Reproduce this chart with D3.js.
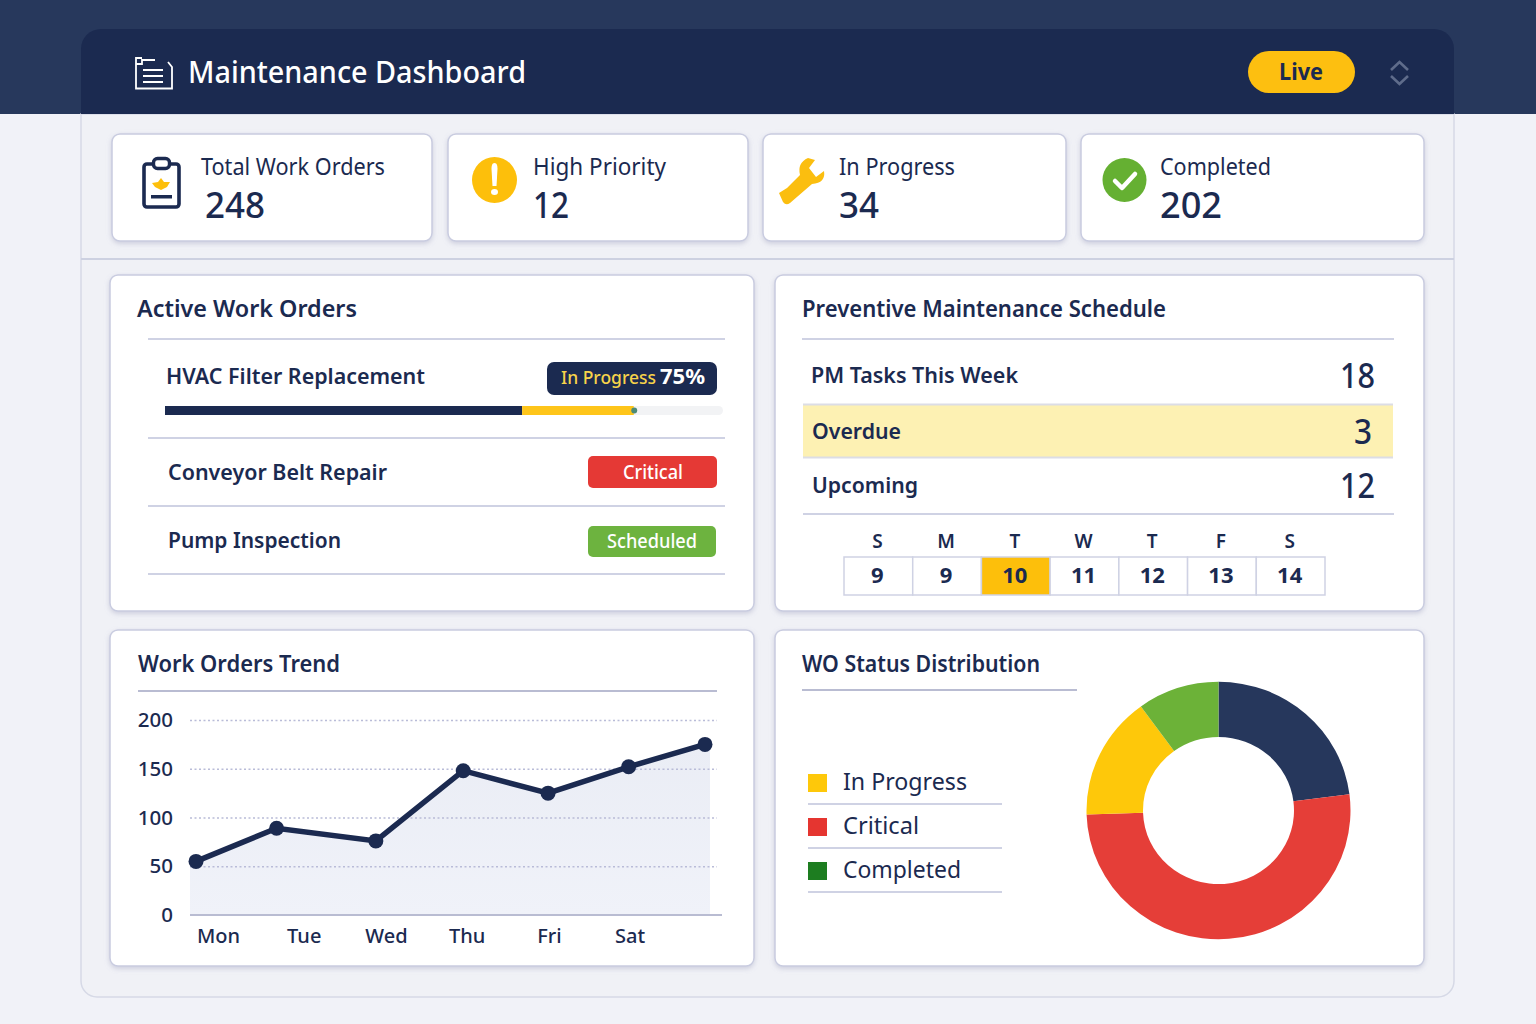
<!DOCTYPE html>
<html>
<head>
<meta charset="utf-8">
<title>Maintenance Dashboard</title>
<script src="https://d3js.org/d3.v7.min.js"></script>
<style>
html, body { margin: 0; padding: 0; background: #f1f2f8; }
svg { display: block; font-family: "Noto Sans", sans-serif; }
</style>
</head>
<body>
<div id="chart"></div>
<script>
const kpiLabels = ["Total Work Orders", "High Priority", "In Progress", "Completed"];
const kpiValues = [248, 12, 34, 202];

const orderNames = ["HVAC Filter Replacement", "Conveyor Belt Repair", "Pump Inspection"];
const orderBadges = ["In Progress", "Critical", "Scheduled"];
const progressStops = [64, 84];   // percent of the bar, as drawn
const progressLabel = "75%";

const pmLabels = ["PM Tasks This Week", "Overdue", "Upcoming"];
const pmValues = [18, 3, 12];
const calendarDays = ["S", "M", "T", "W", "T", "F", "S"];
const calendarDates = [9, 9, 10, 11, 12, 13, 14];
const calendarToday = 2;

const trendDays = [0, 0.95, 2.12, 3.15, 4.15, 5.1, 6];   // the points are not evenly spaced
const trendValues = [55, 89, 76, 148, 125, 152, 175];
const trendTicks = [0, 50, 100, 150, 200];
const trendLabels = ["Mon", "Tue", "Wed", "Thu", "Fri", "Sat"];
const trendLabelDays = [0.26, 1.27, 2.24, 3.19, 4.16, 5.11];

const legendLabels = ["In Progress", "Critical", "Completed"];
const legendColors = ["#fec80a", "#e53530", "#1d7d20"];
const donutValues = [23, 51.5, 15.5, 10];
const donutColors = ["#26375c", "#e53e38", "#fec80a", "#6cb238"];

const navy = "#1b2a50";
const amber = "#fdbf0b";
const ruleColor = "#cfd2e4";

var svg = d3.select("#chart").append("svg")
    .attr("width", 1536)
    .attr("height", 1024)
    .attr("viewBox", "0 0 1536 1024");

// soft shadow for the white cards
var defs = svg.append("defs");
var shadow = defs.append("filter").attr("id", "shadow")
    .attr("x", "-5%").attr("y", "-5%").attr("width", "110%").attr("height", "115%");
shadow.append("feDropShadow").attr("dx", 0).attr("dy", 2).attr("stdDeviation", 2.5)
    .attr("flood-color", "#8a8fb0").attr("flood-opacity", 0.35);

var areaFill = defs.append("linearGradient").attr("id", "areaFill")
    .attr("x1", 0).attr("x2", 0).attr("y1", 0).attr("y2", 1);
areaFill.append("stop").attr("offset", "0%").attr("stop-color", "#eaedf5");
areaFill.append("stop").attr("offset", "100%").attr("stop-color", "#f0f2f9");

// width squeezes the glyphs a little, the reference type is narrower than Noto Sans
function label(parent, text, x, y, size, weight, fill, anchor, width) {
    var t = parent.append("text")
        .attr("x", x)
        .attr("y", y)
        .attr("dy", ".35em")
        .attr("font-size", size)
        .attr("font-weight", weight)
        .attr("fill", fill || navy)
        .attr("text-anchor", anchor || "start")
        .text(text);
    if (width) {
        t.attr("textLength", width).attr("lengthAdjust", "spacingAndGlyphs");
    }
    return t;
}

function rule(parent, x1, x2, y, color) {
    parent.append("line")
        .attr("x1", x1).attr("x2", x2)
        .attr("y1", y).attr("y2", y)
        .attr("stroke", color || ruleColor)
        .attr("stroke-width", 2);
}

function card(x, y, w, h) {
    svg.append("rect")
        .attr("x", x).attr("y", y)
        .attr("width", w).attr("height", h)
        .attr("rx", 8)
        .attr("fill", "#fff")
        .attr("stroke", "#c9cce0")
        .attr("stroke-width", 1.5)
        .attr("filter", "url(#shadow)");
}

// page frame and header
svg.append("rect").attr("width", 1536).attr("height", 114).attr("fill", "#27385c");
svg.append("path")
    .attr("d", "M81 114V981a16 16 0 0 0 16 16H1438a16 16 0 0 0 16-16V114Z")
    .attr("fill", "#f0f1f6")
    .attr("stroke", "#d6d9e6")
    .attr("stroke-width", 1.5);
svg.append("path")
    .attr("d", "M81 114V49a20 20 0 0 1 20-20H1434a20 20 0 0 1 20 20V114Z")
    .attr("fill", navy);
rule(svg, 81, 1454, 259, "#cdd1e1");

// header document icon
var docIcon = svg.append("g")
    .attr("fill", "none")
    .attr("stroke", "#fff")
    .attr("stroke-width", 1.8);
docIcon.append("path").attr("d", "M155 60H142V64H136V58H142M136 64V88.500H172V67L168 62");
docIcon.append("path").attr("d", "M143 70H163M143 76H163M143 82H163").attr("stroke-width", 2);

label(svg, "Maintenance Dashboard", 188, 72, 30, 500, "#fff", "start", 338);

svg.append("rect")
    .attr("x", 1248).attr("y", 51)
    .attr("width", 107).attr("height", 42)
    .attr("rx", 21)
    .attr("fill", "#fdbf10");
label(svg, "Live", 1301, 72, 24, 700, navy, "middle", 44);
svg.append("path")
    .attr("d", "M1391 70L1399.500 62L1408 70M1391 76L1399.500 84L1408 76")
    .attr("fill", "none")
    .attr("stroke", "#5f6c8b")
    .attr("stroke-width", 2.6);

// KPI row
var kpiLeft = [112, 448, 763, 1081];
var kpiRight = [432, 748, 1066, 1424];
var kpiLabelX = [201, 533, 839, 1160];
var kpiValueX = [205, 533, 839, 1160];
var kpiLabelW = [184, 133, 116, 111];
var kpiValueW = [60, 36, 40, 62];
kpiLabels.forEach(function(name, i) {
    card(kpiLeft[i], 134, kpiRight[i] - kpiLeft[i], 107);
    label(svg, name, kpiLabelX[i], 167, 23, 400, navy, "start", kpiLabelW[i]);
    label(svg, kpiValues[i], kpiValueX[i], 205, 36, 500, navy, "start", kpiValueW[i]);
});

// clipboard
var clip = svg.append("g");
clip.append("rect")
    .attr("x", 144).attr("y", 164)
    .attr("width", 35).attr("height", 43)
    .attr("rx", 3)
    .attr("fill", "#fff").attr("stroke", navy).attr("stroke-width", 3.6);
clip.append("rect")
    .attr("x", 153.500).attr("y", 158.500)
    .attr("width", 16).attr("height", 10)
    .attr("rx", 4)
    .attr("fill", "#fff").attr("stroke", navy).attr("stroke-width", 3.4);
clip.append("path")
    .attr("d", "M161 178L164 182L170 182L167 187L161 190L155 187L152 183L158 182Z")
    .attr("fill", amber);
clip.append("rect").attr("x", 151).attr("y", 195).attr("width", 21).attr("height", 3.500).attr("fill", navy);

// warning circle
svg.append("ellipse")
    .attr("cx", 494.500).attr("cy", 180)
    .attr("rx", 22.500).attr("ry", 23)
    .attr("fill", amber);
svg.append("path")
    .attr("d", "M494.500 163C497 163 497.500 166 497.500 169L496.500 186H492.500L491.500 169C491.500 166 492 163 494.500 163Z")
    .attr("fill", "#fff");
svg.append("ellipse").attr("cx", 494.500).attr("cy", 192).attr("rx", 3.500).attr("ry", 3).attr("fill", "#fff");

// wrench
svg.append("path")
    .attr("d", "M779 193L787 188L800 175Q797 163 808 158L815 160L809 168L816 177L824 171Q826 183 812 184L790 203Q786 206 783 202Z")
    .attr("fill", "#fbbe0f");

// check circle
svg.append("circle").attr("cx", 1124.500).attr("cy", 180).attr("r", 22).attr("fill", "#65b032");
svg.append("path")
    .attr("d", "M1115 181L1122 188L1135 174")
    .attr("fill", "none")
    .attr("stroke", "#fff")
    .attr("stroke-width", 4.5)
    .attr("stroke-linecap", "round")
    .attr("stroke-linejoin", "round");

// the four panels
card(110, 275, 644, 336);
card(775, 275, 649, 336);
card(110, 630, 644, 336);
card(775, 630, 649, 336);

// Active Work Orders
label(svg, "Active Work Orders", 137, 309, 23.500, 600, navy, "start", 220);
rule(svg, 148, 725, 339);
label(svg, orderNames[0], 166, 376, 22, 600, navy, "start", 259);
label(svg, orderNames[1], 168, 472, 22, 600, navy, "start", 219);
label(svg, orderNames[2], 168, 540, 22, 600, navy, "start", 173);
rule(svg, 148, 725, 438);
rule(svg, 148, 725, 506);
rule(svg, 148, 725, 574);

svg.append("rect")
    .attr("x", 547).attr("y", 362)
    .attr("width", 170).attr("height", 33)
    .attr("rx", 7)
    .attr("fill", navy);
label(svg, orderBadges[0], 561, 378, 18.500, 500, "#f7d34a", "start", 95);
label(svg, progressLabel, 705, 377, 21, 700, "#fff", "end", 45);

svg.append("rect")
    .attr("x", 165).attr("y", 406)
    .attr("width", 558).attr("height", 9)
    .attr("rx", 4.500)
    .attr("fill", "#f2f3f5");

var progress = d3.scaleLinear().domain([0, 100]).range([165, 723]);
svg.append("rect")
    .attr("x", progress(0)).attr("y", 406)
    .attr("width", progress(progressStops[0]) - progress(0)).attr("height", 9)
    .attr("fill", navy);
svg.append("rect")
    .attr("x", progress(progressStops[0])).attr("y", 406)
    .attr("width", progress(progressStops[1]) - progress(progressStops[0])).attr("height", 9)
    .attr("fill", "#fec51a");
svg.append("circle")
    .attr("cx", progress(progressStops[1]) + 0.500).attr("cy", 410.500)
    .attr("r", 3)
    .attr("fill", "#4d8a76");

svg.append("rect")
    .attr("x", 588).attr("y", 456)
    .attr("width", 129).attr("height", 32)
    .attr("rx", 5)
    .attr("fill", "#e53935");
label(svg, orderBadges[1], 653, 472, 19.500, 500, "#fff", "middle", 60);
svg.append("rect")
    .attr("x", 588).attr("y", 526)
    .attr("width", 128).attr("height", 31)
    .attr("rx", 5)
    .attr("fill", "#6db33f");
label(svg, orderBadges[2], 652, 541, 19, 500, "#fff", "middle", 90);

// Preventive Maintenance Schedule
label(svg, "Preventive Maintenance Schedule", 802, 309, 23.500, 600, navy, "start", 364);
rule(svg, 802, 1394, 339);
svg.append("rect")
    .attr("x", 803).attr("y", 405)
    .attr("width", 590).attr("height", 52)
    .attr("fill", "#fdf1b3");
rule(svg, 803, 1393, 404.500, "#dcdde6");
rule(svg, 803, 1393, 457.500, "#dcdde6");
rule(svg, 803, 1394, 514);

var pmY = [375, 431, 485];
var pmLabelX = [811, 812, 812];
var pmLabelW = [207, 89, 106];
var pmValueX = [1375, 1372, 1375];
var pmValueW = [35, 18, 35];
pmLabels.forEach(function(name, i) {
    label(svg, name, pmLabelX[i], pmY[i], 22, 600, navy, "start", pmLabelW[i]);
    label(svg, pmValues[i], pmValueX[i], pmY[i] + 1, 34, 500, navy, "end", pmValueW[i]);
});

var cal = d3.scaleBand()
    .domain(d3.range(calendarDates.length))
    .range([844, 1325]);

svg.append("g").selectAll("text")
    .data(calendarDays)
    .enter()
    .append("text")
    .attr("x", function(d, i) { return cal(i) + cal.bandwidth() / 2 - 1; })
    .attr("y", 541)
    .attr("dy", ".35em")
    .attr("text-anchor", "middle")
    .attr("font-size", 19)
    .attr("font-weight", 600)
    .attr("fill", navy)
    .text(function(d) { return d; });

svg.append("g").selectAll("rect")
    .data(calendarDates)
    .enter()
    .append("rect")
    .attr("x", function(d, i) { return cal(i); })
    .attr("y", 557)
    .attr("width", cal.bandwidth())
    .attr("height", 38)
    .attr("fill", function(d, i) { return i == calendarToday ? amber : "#fff"; })
    .attr("stroke", ruleColor)
    .attr("stroke-width", 1.5);

svg.append("g").selectAll("text")
    .data(calendarDates)
    .enter()
    .append("text")
    .attr("x", function(d, i) { return cal(i) + cal.bandwidth() / 2 - 1; })
    .attr("y", 575)
    .attr("dy", ".35em")
    .attr("text-anchor", "middle")
    .attr("font-size", 22)
    .attr("font-weight", 700)
    .attr("fill", navy)
    .text(function(d) { return d; });

// Work Orders Trend
label(svg, "Work Orders Trend", 138, 664, 23, 600, navy, "start", 202);
rule(svg, 138, 717, 691, "#b9bcd2");

var x = d3.scaleLinear().domain([0, 6]).range([196, 705]);
var y = d3.scaleLinear().domain([0, 200]).range([915, 720]);

var trend = trendDays.map(function(d, i) { return {day: d, value: trendValues[i]}; });

// the shaded area runs a little past the first and last point
var areaRows = [{day: x.invert(190), value: trendValues[0]}]
    .concat(trend)
    .concat([{day: x.invert(710), value: trendValues[trendValues.length - 1]}]);

svg.append("path")
    .datum(areaRows)
    .attr("fill", "url(#areaFill)")
    .attr("d", d3.area()
        .x(function(d) { return x(d.day); })
        .y0(y(0))
        .y1(function(d) { return y(d.value); }));

var yAxis = svg.append("g")
    .attr("transform", "translate(190,0)")
    .call(d3.axisLeft(y).tickValues(trendTicks).tickSize(-527).tickPadding(17));
yAxis.select(".domain").remove();
yAxis.selectAll("line")
    .attr("stroke", "#b9bcd8")
    .attr("stroke-width", 1.3)
    .attr("stroke-dasharray", "2 2.500")
    .filter(function(d) { return d == 0; })
    .remove();
yAxis.selectAll("text")
    .attr("font-size", 20.500)
    .attr("font-family", "Noto Sans")
    .attr("font-weight", 500)
    .attr("fill", navy);

var xAxis = svg.append("g")
    .attr("transform", "translate(0," + y(0) + ")")
    .call(d3.axisBottom(x)
        .tickValues(trendLabelDays)
        .tickSize(0)
        .tickPadding(14)
        .tickFormat(function(d, i) { return trendLabels[i]; }));
xAxis.select(".domain").remove();
xAxis.selectAll("text")
    .attr("font-size", 20)
    .attr("font-family", "Noto Sans")
    .attr("font-weight", 500)
    .attr("fill", navy);
rule(svg, 190, 722, y(0), "#b9bcd2");

svg.append("path")
    .datum(trend)
    .attr("fill", "none")
    .attr("stroke", navy)
    .attr("stroke-width", 5.500)
    .attr("d", d3.line()
        .x(function(d) { return x(d.day); })
        .y(function(d) { return y(d.value); }));

svg.append("g").selectAll("circle")
    .data(trend)
    .enter()
    .append("circle")
    .attr("cx", function(d) { return x(d.day); })
    .attr("cy", function(d) { return y(d.value); })
    .attr("r", 7.500)
    .attr("fill", navy);

// WO Status Distribution
label(svg, "WO Status Distribution", 802, 664, 23, 600, navy, "start", 238);
rule(svg, 802, 1077, 690, "#b9bcd2");

var legendY = d3.scalePoint()
    .domain(legendLabels)
    .range([782, 870]);
var legendW = [124, 76, 118];

legendLabels.forEach(function(name, i) {
    svg.append("rect")
        .attr("x", 808).attr("y", legendY(name) - 8)
        .attr("width", 19).attr("height", 18)
        .attr("fill", legendColors[i]);
    label(svg, name, 843, legendY(name), 24, 400, navy, "start", legendW[i]);
    rule(svg, 808, 1002, legendY(name) + 22);
});

var pie = d3.pie().sort(null);
var arc = d3.arc().innerRadius(75.500).outerRadius(132);

svg.append("g")
    .attr("transform", "translate(1218.500,810.500) scale(1,0.975)")
    .selectAll("path")
    .data(pie(donutValues))
    .enter()
    .append("path")
    .attr("d", arc)
    .attr("fill", function(d, i) { return donutColors[i]; });
</script>
</body>
</html>
